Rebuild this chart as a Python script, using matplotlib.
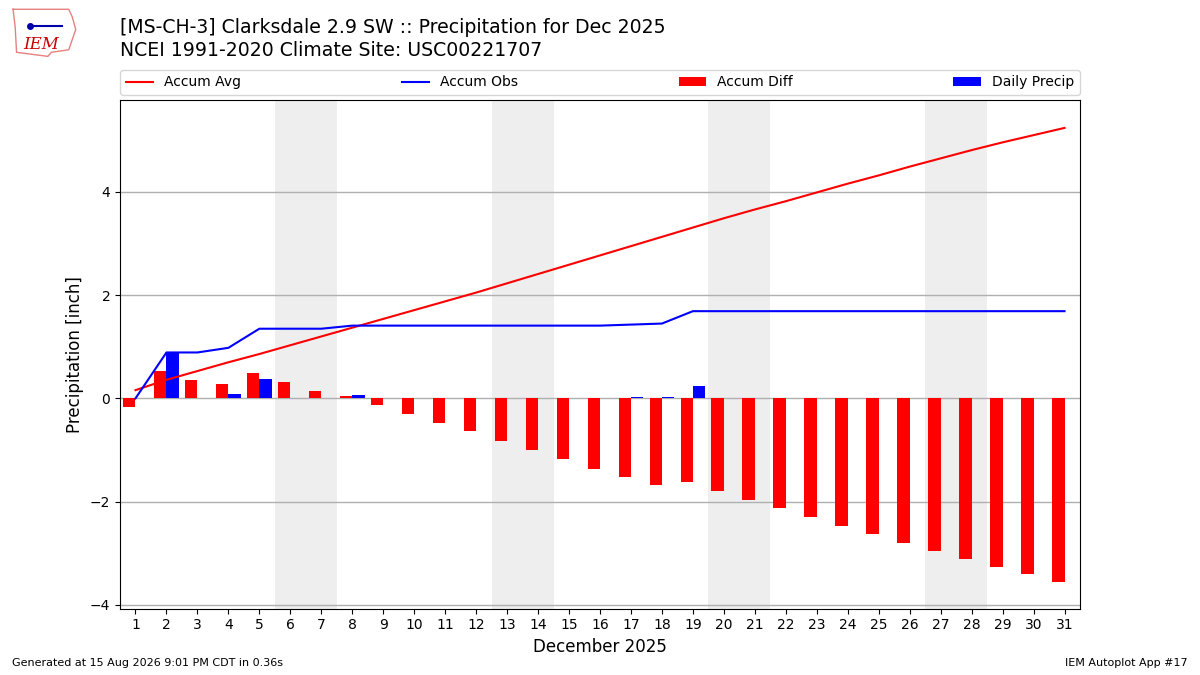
import matplotlib
matplotlib.use("Agg")
import matplotlib.pyplot as plt
import numpy as np

days = list(range(1, 32))
daily_precip = [0.00, 0.89, 0.00, 0.09, 0.37, 0.00, 0.00, 0.06, 0.00, 0.00,
                0.00, 0.00, 0.00, 0.00, 0.00, 0.00, 0.02, 0.02, 0.24, 0.00,
                0.00, 0.00, 0.00, 0.00, 0.00, 0.00, 0.00, 0.00, 0.00, 0.00, 0.00]
accum_avg = [0.16, 0.36, 0.53, 0.70, 0.86, 1.03, 1.20, 1.37, 1.54, 1.71,
             1.88, 2.05, 2.23, 2.41, 2.59, 2.77, 2.95, 3.13, 3.31, 3.49,
             3.66, 3.82, 3.99, 4.16, 4.32, 4.49, 4.65, 4.81, 4.96, 5.10, 5.24]
weekends = [(6, 7), (13, 14), (20, 21), (27, 28)]

accum_obs = np.cumsum(daily_precip)
accum_diff = accum_obs - np.array(accum_avg)

fig = plt.figure(figsize=(12, 6.75), dpi=100)
ax = fig.add_axes([0.1, 0.0985, 0.8, 0.7533])

for a, b in weekends:
    ax.axvspan(a - 0.5, b + 0.5, color="#eeeeee", zorder=0, lw=0)

ax.bar(np.array(days) - 0.4, accum_diff, width=0.4, align="edge", color="r",
       label="Accum Diff", zorder=2)
ax.bar(days, daily_precip, width=0.4, align="edge", color="b",
       label="Daily Precip", zorder=2)
ax.plot(days, accum_avg, color="r", lw=1.5, label="Accum Avg", zorder=3)
ax.plot(days, accum_obs, color="b", lw=1.5, label="Accum Obs", zorder=3)

ax.set_xlim(0.5, 31.5)
ax.set_ylim(-4.07, 5.78)
ax.set_xticks(days)
ax.set_yticks([-4, -2, 0, 2, 4])
ax.grid(axis="y", color="#b0b0b0", lw=1, zorder=1)
ax.set_axisbelow(True)
ax.set_xlabel("December 2025", fontsize=12)
ax.set_ylabel("Precipitation [inch]", fontsize=12)

handles, labels = ax.get_legend_handles_labels()
order = [labels.index(l) for l in ["Accum Avg", "Accum Obs", "Accum Diff", "Daily Precip"]]
ax.legend([handles[i] for i in order], [labels[i] for i in order],
          bbox_to_anchor=(0, 1.01, 1, 0.05), loc="lower left", mode="expand",
          ncol=4, borderaxespad=0, fontsize=10)

fig.text(0.1, 0.974, "[MS-CH-3] Clarksdale 2.9 SW :: Precipitation for Dec 2025\n"
         "NCEI 1991-2020 Climate Site: USC00221707",
         ha="left", va="top", fontsize=13.6, linespacing=1.3)

fig.text(0.01, 0.01, "Generated at 15 Aug 2026 9:01 PM CDT in 0.36s", fontsize=8,
         ha="left", va="bottom")
fig.text(0.99, 0.01, "IEM Autoplot App #17", fontsize=8, ha="right", va="bottom")

# simple logo
lax = fig.add_axes([0.008, 0.915, 0.058, 0.075])
lax.axis("off")
lax.set_xlim(0, 1)
lax.set_ylim(0, 1)
outline_x = [0.05, 0.85, 0.9, 0.95, 0.9, 0.85, 0.6, 0.55, 0.1, 0.08, 0.05]
outline_y = [0.95, 0.95, 0.8, 0.55, 0.35, 0.15, 0.1, 0.02, 0.1, 0.6, 0.95]
lax.plot(outline_x, outline_y, color="#e88080", lw=1)
lax.text(0.2, 0.25, "IEM", color="#cc0000", fontsize=12, style="italic",
         family="DejaVu Serif", va="center")
lax.plot([0.3, 0.75], [0.62, 0.62], color="#0000aa", lw=1.5)
lax.plot([0.3], [0.62], "o", color="#0000aa", ms=4)

fig.savefig("out.png", dpi=100)
